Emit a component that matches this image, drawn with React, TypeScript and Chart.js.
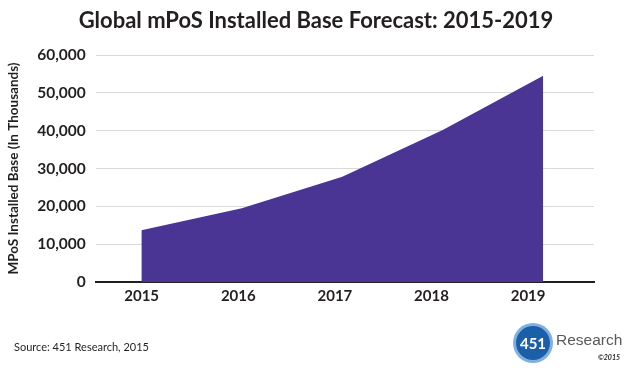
import React, { useEffect, useRef } from "react";
import { Chart, registerables } from "chart.js";

Chart.register(...registerables);

const years = [2015, 2016, 2017, 2018, 2019];
const installedBase = [13700, 19500, 27800, 40200, 54500];
const yTicks = [0, 10000, 20000, 30000, 40000, 50000, 60000];

const TITLE = "Global mPoS Installed Base Forecast: 2015-2019";
const Y_TITLE = "MPoS Installed Base (In Thousands)";
const SOURCE = "Source: 451 Research, 2015";

const FONT = "Lato, 'Open Sans', sans-serif";
const TEXT = "#231f20";

export default function App() {
  const ref = useRef<HTMLCanvasElement | null>(null);

  useEffect(() => {
    if (!ref.current) return;
    const chart = new Chart(ref.current, {
      type: "line",
      data: {
        datasets: [
          {
            data: years.map((y, i) => ({ x: y, y: installedBase[i] })),
            xAxisID: "x",
            yAxisID: "y",
            fill: "origin",
            backgroundColor: "#4b3594",
            borderWidth: 0,
            borderColor: "#4b3594",
            pointRadius: 0,
            tension: 0,
          },
        ],
      },
      options: {
        animation: false,
        responsive: false,
        devicePixelRatio: 1,
        layout: { padding: { left: 6, right: 38, top: 55, bottom: 63 } },
        plugins: {
          legend: { display: false },
          tooltip: { enabled: false },
          title: { display: false },
        },
        scales: {
          x: {
            type: "linear",
            display: false,
            min: 2014.546,
            max: 2019.506,
          },
          x2: {
            type: "linear",
            position: "bottom",
            min: 2014.525,
            max: 2019.682,
            afterBuildTicks: (scale: any) => {
              scale.ticks = years.map((v) => ({ value: v }));
            },
            ticks: {
              color: TEXT,
              font: { family: FONT, size: 15, weight: "bold" },
              padding: 5,
              maxRotation: 0,
              autoSkip: false,
              callback: (v: any) => String(v),
            },
            grid: { display: false, drawTicks: false },
            border: { display: true, color: TEXT, width: 2 },
          },
          y: {
            type: "linear",
            min: 0,
            max: 60000,
            afterBuildTicks: (scale: any) => {
              scale.ticks = yTicks.map((v) => ({ value: v }));
            },
            ticks: {
              color: TEXT,
              font: { family: FONT, size: 15.5, weight: "bold" },
              padding: 10,
              callback: (v: any) => Number(v).toLocaleString("en-US"),
            },
            grid: { color: "#d9d9d9", lineWidth: 1, drawTicks: false },
            border: { display: false },
            title: {
              display: true,
              text: Y_TITLE,
              color: TEXT,
              font: { family: FONT, size: 13.5, weight: "bold" },
              padding: { top: 0, bottom: 5 },
            },
          },
        },
      },
    });
    return () => chart.destroy();
  }, []);

  return (
    <div
      style={{
        position: "absolute",
        left: 0,
        top: 0,
        width: 632,
        height: 373,
        background: "#fff",
        overflow: "hidden",
      }}
    >
      <canvas ref={ref} width={632} height={373} style={{ display: "block" }} />
      <div
        style={{
          position: "absolute",
          left: 0,
          top: 6,
          width: 632,
          textAlign: "center",
          fontFamily: FONT,
          fontSize: 22,
          fontWeight: "bold",
          color: TEXT,
          whiteSpace: "nowrap",
          lineHeight: "27px",
        }}
      >
        {TITLE}
      </div>
      <div
        style={{
          position: "absolute",
          left: 14,
          top: 340,
          fontFamily: FONT,
          fontSize: 11,
          color: TEXT,
          whiteSpace: "nowrap",
        }}
      >
        {SOURCE}
      </div>
      <div
        style={{
          position: "absolute",
          left: 513,
          top: 323,
          width: 40,
          height: 40,
          borderRadius: "50%",
          background: "#7fb0e0",
        }}
      >
        <div
          style={{
            position: "absolute",
            left: 3,
            top: 3,
            width: 34,
            height: 34,
            borderRadius: "50%",
            background: "#1c5fa9",
            color: "#fff",
            fontFamily: FONT,
            fontWeight: "bold",
            fontSize: 15,
            lineHeight: "34px",
            textAlign: "center",
          }}
        >
          451
        </div>
      </div>
      <div
        style={{
          position: "absolute",
          left: 556,
          top: 331,
          fontFamily: "'Liberation Sans', Arial, sans-serif",
          fontSize: 15.5,
          color: "#58595b",
          whiteSpace: "nowrap",
        }}
      >
        Research
      </div>
      <div
        style={{
          position: "absolute",
          left: 598,
          top: 353,
          fontFamily: FONT,
          fontSize: 7,
          fontStyle: "italic",
          fontWeight: "bold",
          color: TEXT,
          whiteSpace: "nowrap",
        }}
      >
        ©2015
      </div>
    </div>
  );
}
